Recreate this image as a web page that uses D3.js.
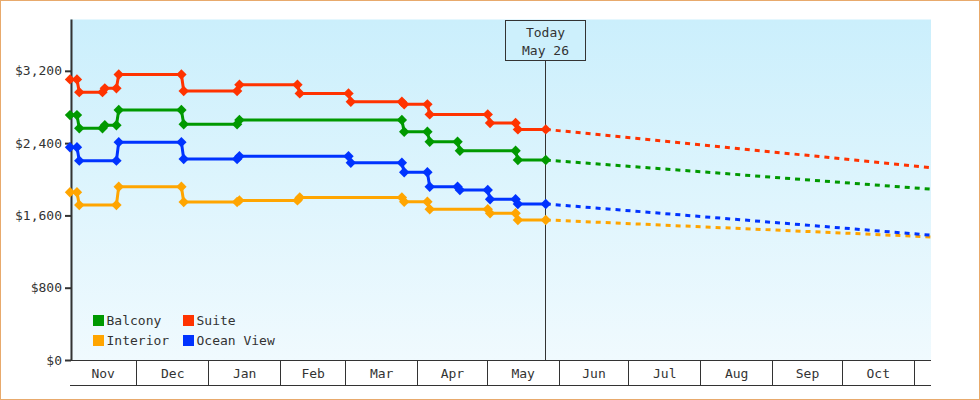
<!DOCTYPE html>
<html>
<head>
<meta charset="utf-8">
<script src="https://cdn.jsdelivr.net/npm/d3@7"></script>
<style>
  html, body { margin: 0; padding: 0; background: #fff; }
  svg { display: block; }
  text { font-family: "DejaVu Sans Mono", monospace; font-size: 13px; fill: #333; }
</style>
</head>
<body>
<svg id="chart" width="980" height="400"></svg>
<script>
// ---------- data ----------
const seriesNames = ["Balcony", "Suite", "Interior", "Ocean View"];
const seriesColors = ["#009900", "#ff3300", "#ffa500", "#0033ff"];

const balcony = [
  ["2024-11-02", 2710], ["2024-11-05", 2710], ["2024-11-06", 2564], ["2024-11-16", 2564],
  ["2024-11-17", 2597], ["2024-11-22", 2597], ["2024-11-23", 2766], ["2024-12-20", 2766],
  ["2024-12-21", 2608], ["2025-01-13", 2608], ["2025-01-14", 2656], ["2025-03-25", 2656],
  ["2025-03-26", 2526], ["2025-04-05", 2526], ["2025-04-06", 2415], ["2025-04-18", 2415],
  ["2025-04-19", 2316], ["2025-05-13", 2316], ["2025-05-14", 2213], ["2025-05-26", 2213]
];
const suite = [
  ["2024-11-02", 3105], ["2024-11-05", 3105], ["2024-11-06", 2964], ["2024-11-16", 2964],
  ["2024-11-17", 3006], ["2024-11-22", 3006], ["2024-11-23", 3160], ["2024-12-20", 3160],
  ["2024-12-21", 2976], ["2025-01-13", 2976], ["2025-01-14", 3046], ["2025-02-08", 3046],
  ["2025-02-09", 2950], ["2025-03-02", 2950], ["2025-03-03", 2857], ["2025-03-25", 2857],
  ["2025-03-26", 2829], ["2025-04-05", 2829], ["2025-04-06", 2718], ["2025-05-01", 2718],
  ["2025-05-02", 2622], ["2025-05-13", 2622], ["2025-05-14", 2552], ["2025-05-26", 2552]
];
const interior = [
  ["2024-11-02", 1856], ["2024-11-05", 1856], ["2024-11-06", 1716], ["2024-11-22", 1716],
  ["2024-11-23", 1918], ["2024-12-20", 1918], ["2024-12-21", 1749], ["2025-01-13", 1749],
  ["2025-01-14", 1766], ["2025-02-08", 1766], ["2025-02-09", 1799], ["2025-03-25", 1799],
  ["2025-03-26", 1752], ["2025-04-05", 1752], ["2025-04-06", 1669], ["2025-05-01", 1669],
  ["2025-05-02", 1624], ["2025-05-13", 1624], ["2025-05-14", 1550], ["2025-05-26", 1550]
];
const oceanView = [
  ["2024-11-02", 2354], ["2024-11-05", 2354], ["2024-11-06", 2206], ["2024-11-22", 2206],
  ["2024-11-23", 2411], ["2024-12-20", 2411], ["2024-12-21", 2224], ["2025-01-13", 2224],
  ["2025-01-14", 2254], ["2025-03-02", 2254], ["2025-03-03", 2183], ["2025-03-25", 2183],
  ["2025-03-26", 2077], ["2025-04-05", 2077], ["2025-04-06", 1918], ["2025-04-18", 1918],
  ["2025-04-19", 1882], ["2025-05-01", 1882], ["2025-05-02", 1779], ["2025-05-13", 1779],
  ["2025-05-14", 1727], ["2025-05-26", 1727]
];
const projectionEndDate = "2025-11-08";
const projectionValues = [1890, 2128, 1362, 1381];   // Balcony, Suite, Interior, Ocean View
const todayDate = "2025-05-26";
const todayLabel = ["Today", "May 26"];
const domainDates = ["2024-11-02", "2025-11-08"];
const yTicks = [0, 800, 1600, 2400, 3200];
const yMax = 3768;

// ---------- chart ----------
const parse = d3.timeParse("%Y-%m-%d");
const seriesData = [balcony, suite, interior, oceanView].map(arr => arr.map(([d, v]) => ({ date: parse(d), value: v })));

const L = 70, R = 931, T = 19.5, B = 360, AX = 385;
const svg = d3.select("#chart");

const x = d3.scaleTime().domain(domainDates.map(parse)).range([L, R]);
const y = d3.scaleLinear().domain([0, yMax]).range([B, T]);

// outer border
svg.append("rect").attr("x", 0.5).attr("y", 0.5).attr("width", 979).attr("height", 399)
  .attr("fill", "#fff").attr("stroke", "#e8aa6c").attr("stroke-width", 1);

// plot background gradient
const defs = svg.append("defs");
const grad = defs.append("linearGradient").attr("id", "bg").attr("x1", 0).attr("y1", 0).attr("x2", 0).attr("y2", 1);
grad.append("stop").attr("offset", "0%").attr("stop-color", "#cbeffc");
grad.append("stop").attr("offset", "100%").attr("stop-color", "#f0fafe");
svg.append("rect").attr("x", L).attr("y", T).attr("width", R - L).attr("height", B - T).attr("fill", "url(#bg)");

// y axis
const yAxis = d3.axisLeft(y).tickValues(yTicks).tickFormat(d3.format("$,")).tickSize(6).tickPadding(3);
const yg = svg.append("g").attr("transform", `translate(${L + 1},0)`).call(yAxis);
yg.select(".domain").remove();
yg.selectAll(".tick line").attr("stroke", "#333").attr("stroke-width", 2);
yg.selectAll(".tick text").attr("font-family", "DejaVu Sans Mono").attr("font-size", 13).attr("fill", "#333");
svg.append("line").attr("x1", L + 1.5).attr("x2", L + 1.5).attr("y1", T).attr("y2", B + 1)
  .attr("stroke", "#333").attr("stroke-width", 2);

// x axis band (month cells)
const domain = x.domain();
svg.append("line").attr("x1", L).attr("x2", R).attr("y1", B + 0.5).attr("y2", B + 0.5).attr("stroke", "#333").attr("stroke-width", 1);
svg.append("line").attr("x1", L).attr("x2", R).attr("y1", AX + 0.5).attr("y2", AX + 0.5).attr("stroke", "#333").attr("stroke-width", 1);
const monthStarts = d3.timeMonth.range(d3.timeMonth.ceil(domain[0]), domain[1]);
const xg = svg.append("g");
xg.selectAll("line.sep").data(monthStarts).join("line").attr("class", "sep")
  .attr("x1", d => Math.round(x(d)) - 0.5).attr("x2", d => Math.round(x(d)) - 0.5)
  .attr("y1", B).attr("y2", AX).attr("stroke", "#333").attr("stroke-width", 1);
const cells = [d3.timeMonth.floor(domain[0]), ...monthStarts].map(m => {
  const s = Math.max(x(m), L), e = Math.min(x(d3.timeMonth.offset(m, 1)), R);
  return { m, s, e };
}).filter(c => c.e - c.s > 30);
xg.selectAll("text").data(cells).join("text")
  .attr("x", c => (c.s + c.e) / 2 - 0.5).attr("y", 378).attr("text-anchor", "middle")
  .text(c => d3.timeFormat("%b")(c.m));

// today line & box
const tx = Math.round(x(parse(todayDate))) - 0.5;
svg.append("line").attr("x1", tx).attr("x2", tx).attr("y1", 60).attr("y2", B).attr("stroke", "#333").attr("stroke-width", 1);
svg.append("rect").attr("x", tx - 40).attr("y", 20.5).attr("width", 80).attr("height", 40)
  .attr("fill", "#cdf0fc").attr("stroke", "#333").attr("stroke-width", 1);
svg.append("text").attr("x", tx).attr("y", 37).attr("text-anchor", "middle").text(todayLabel[0]);
svg.append("text").attr("x", tx).attr("y", 55).attr("text-anchor", "middle").text(todayLabel[1]);

// series
const line = d3.line().x(d => x(d.date)).y(d => y(d.value));
const diamond = (r) => `M0,${-r}L${r},0L0,${r}L${-r},0Z`;
seriesData.forEach((data, i) => {
  const c = seriesColors[i];
  const last = data[data.length - 1];
  const proj = [last, { date: parse(projectionEndDate), value: projectionValues[i] }];
  svg.append("path").datum(proj).attr("d", line).attr("fill", "none")
    .attr("stroke", c).attr("stroke-width", 3).attr("stroke-dasharray", "5,5");
  svg.append("path").datum(data).attr("d", line).attr("fill", "none")
    .attr("stroke", c).attr("stroke-width", 3);
  svg.append("g").selectAll("path").data(data).join("path")
    .attr("transform", d => `translate(${x(d.date)},${y(d.value)})`)
    .attr("d", diamond(5.2)).attr("fill", c);
});

// legend
const legendPos = [[93, 315], [183, 315], [93, 335], [183, 335]];
seriesNames.forEach((n, i) => {
  const [lx, ly] = legendPos[i];
  svg.append("rect").attr("x", lx).attr("y", ly).attr("width", 11).attr("height", 11).attr("fill", seriesColors[i]);
  svg.append("text").attr("x", lx + 13.5).attr("y", ly + 10).text(n);
});
</script>
</body>
</html>
